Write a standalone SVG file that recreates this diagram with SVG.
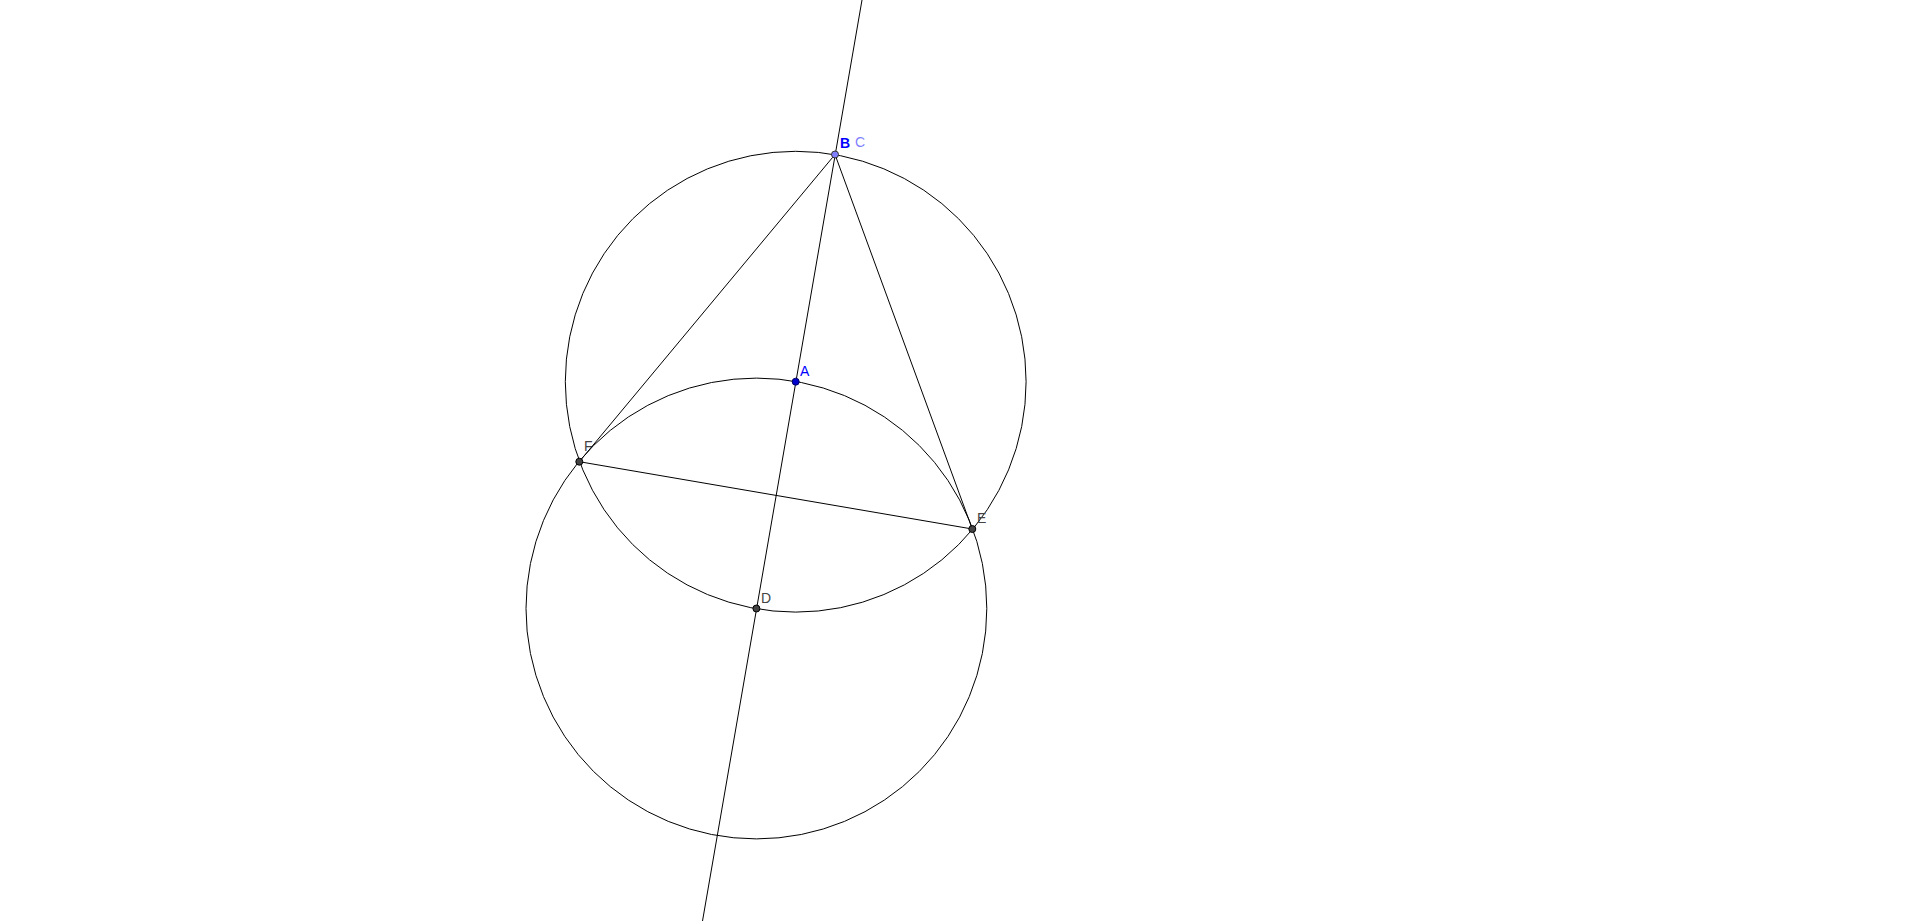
<svg xmlns="http://www.w3.org/2000/svg" width="1920" height="921" viewBox="0 0 1920 921">
<style>
.c{fill:none;stroke:#000;stroke-width:1}
.l{stroke:#000;stroke-width:1}
.pt{fill:#444;stroke:#000;stroke-width:1}
.lbl{font-family:"Liberation Sans",Arial,sans-serif;font-size:14px;fill:#444}
</style>
<rect width="1920" height="921" fill="#fff"/>
<g id="labels-under">
<text id="label-F" class="lbl" x="584" y="451">F</text>
</g>
<g id="connectors">
<line class="l" x1="862" y1="0" x2="702.5" y2="921"/>
<line class="l" x1="835" y1="154.5" x2="579.3" y2="461.7"/>
<line class="l" x1="835" y1="154.5" x2="972.3" y2="529"/>
<line class="l" x1="579.3" y1="461.7" x2="972.3" y2="529"/>
</g>
<g id="circle-A"><circle class="c" cx="795.7" cy="381.7" r="230.4"/></g>
<g id="circle-D"><circle class="c" cx="756.4" cy="608.5" r="230.4"/></g>
<g id="node-B"><circle cx="835" cy="154.5" r="3.5" fill="#7f7fff" stroke="#333" stroke-width="1"/><text class="lbl" x="840" y="148" style="fill:#0000ff;font-weight:bold">B</text></g>
<g id="node-C"><text class="lbl" x="855" y="147" style="fill:#7f7fff">C</text></g>
<g id="node-A"><circle cx="795.7" cy="381.7" r="3.5" fill="#0000cc" stroke="#000066" stroke-width="1"/><text class="lbl" x="800" y="376" style="fill:#0000ff">A</text></g>
<g id="node-F"><circle class="pt" cx="579.3" cy="461.7" r="3.5"/></g>
<g id="node-E"><circle class="pt" cx="972.3" cy="529" r="3.5"/><text class="lbl" x="977" y="523">E</text></g>
<g id="node-D"><circle class="pt" cx="756.4" cy="608.5" r="3.5"/><text class="lbl" x="761" y="603">D</text></g>
</svg>
